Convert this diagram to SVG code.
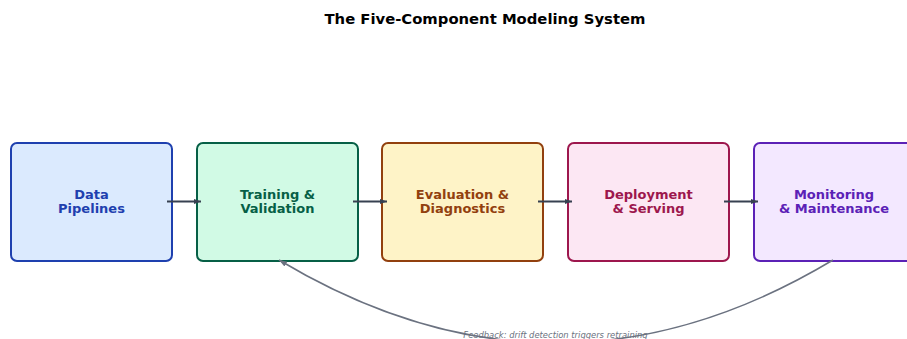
<svg xmlns="http://www.w3.org/2000/svg" width="907" height="339" viewBox="0 0 907 339">
  <style>
    .box { stroke-width: 2; }
    .lbl { font-family: "DejaVu Sans", sans-serif; font-weight: bold; font-size: 13px; text-anchor: middle; }
    .title { font-family: "DejaVu Sans", sans-serif; font-weight: bold; font-size: 14.8px; text-anchor: middle; fill: #000; }
    .flow { stroke: #374151; stroke-width: 2; fill: none; }
    .fb { stroke: #6b7280; stroke-width: 1.5; fill: none; }
    .fbtxt { font-family: "DejaVu Sans", sans-serif; font-style: italic; font-size: 8.4px; text-anchor: middle; fill: #6b7280; }
  </style>
  <defs>
    <marker id="head" viewBox="0 0 10 10" refX="10" refY="5" markerWidth="7" markerHeight="7" orient="auto" markerUnits="userSpaceOnUse">
      <path d="M0,1.5 L10,5 L0,8.5 Z" fill="#374151"/>
    </marker>
    <marker id="fbhead" viewBox="0 0 10 10" refX="10" refY="5" markerWidth="8" markerHeight="8" orient="auto" markerUnits="userSpaceOnUse">
      <path d="M0,1.5 L10,5 L0,8.5 Z" fill="#6b7280"/>
    </marker>
  </defs>

  <text class="title" x="485" y="24">The Five-Component Modeling System</text>

  <g id="data-pipelines">
    <rect class="box" x="11" y="143" width="161" height="118" rx="6" fill="#dbeafe" stroke="#1e40af"/>
    <text class="lbl" fill="#1e40af"><tspan x="91.5" y="199">Data</tspan><tspan x="91.5" y="213">Pipelines</tspan></text>
  </g>

  <g id="training-validation">
    <rect class="box" x="197" y="143" width="161" height="118" rx="6" fill="#d1fae5" stroke="#065f46"/>
    <text class="lbl" fill="#065f46"><tspan x="277.5" y="199">Training &amp;</tspan><tspan x="277.5" y="213">Validation</tspan></text>
  </g>

  <g id="evaluation-diagnostics">
    <rect class="box" x="382" y="143" width="161" height="118" rx="6" fill="#fef3c7" stroke="#92400e"/>
    <text class="lbl" fill="#92400e"><tspan x="462.5" y="199">Evaluation &amp;</tspan><tspan x="462.5" y="213">Diagnostics</tspan></text>
  </g>

  <g id="deployment-serving">
    <rect class="box" x="568" y="143" width="161" height="118" rx="6" fill="#fce7f3" stroke="#9d174d"/>
    <text class="lbl" fill="#9d174d"><tspan x="648.5" y="199">Deployment</tspan><tspan x="648.5" y="213">&amp; Serving</tspan></text>
  </g>

  <g id="monitoring-maintenance">
    <rect class="box" x="754" y="143" width="161" height="118" rx="6" fill="#f3e8ff" stroke="#5b21b6"/>
    <text class="lbl" fill="#5b21b6"><tspan x="834" y="199">Monitoring</tspan><tspan x="834" y="213">&amp; Maintenance</tspan></text>
  </g>

  <g id="connectors">
    <line class="flow" x1="167" y1="201.5" x2="201" y2="201.5" marker-end="url(#head)"/>
    <line class="flow" x1="353" y1="201.5" x2="387" y2="201.5" marker-end="url(#head)"/>
    <line class="flow" x1="538" y1="201.5" x2="572" y2="201.5" marker-end="url(#head)"/>
    <line class="flow" x1="724" y1="201.5" x2="758" y2="201.5" marker-end="url(#head)"/>
    <path class="fb" d="M833,260 Q556,426 279,260" marker-end="url(#fbhead)"/>
    <text class="fbtxt" x="555.5" y="338">Feedback: drift detection triggers retraining</text>
  </g>
</svg>
